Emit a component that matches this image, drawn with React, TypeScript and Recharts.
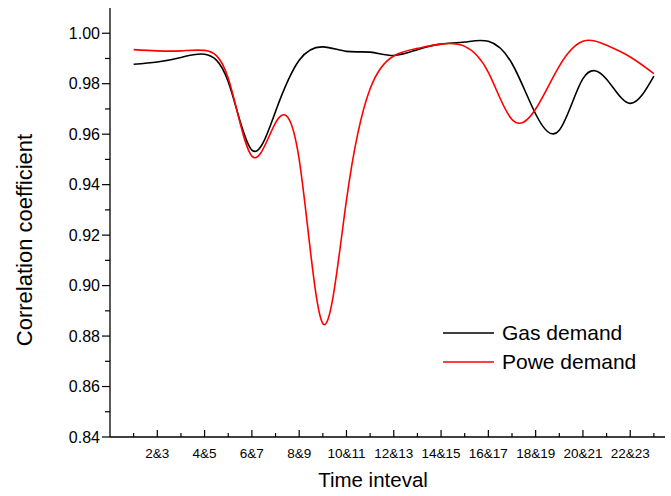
import { Line, LineChart, XAxis, YAxis } from 'recharts'

const timeIndex = [1, 2, 3, 4, 5, 6, 7, 8, 9, 10, 11, 12, 13, 14, 15, 16, 17, 18, 19, 20, 21, 22, 23]
const gasDemand = [
  0.9877, 0.9886, 0.9904, 0.9917, 0.9808, 0.9537, 0.969, 0.9893, 0.9946, 0.9928, 0.9925, 0.9912,
  0.9935, 0.9957, 0.9965, 0.9968, 0.988, 0.968, 0.9616, 0.982, 0.9818, 0.9722, 0.983,
]
const powerDemand = [
  0.9935, 0.993, 0.993, 0.9932, 0.9822, 0.9513, 0.9645, 0.95, 0.885, 0.9339, 0.978, 0.991,
  0.994, 0.9957, 0.9948, 0.9845, 0.9658, 0.97, 0.987, 0.9968, 0.9952, 0.9906, 0.984,
]
const xTickLabels = ['2&3', '4&5', '6&7', '8&9', '10&11', '12&13', '14&15', '16&17', '18&19', '20&21', '22&23']
const yTicks = [0.84, 0.85, 0.86, 0.87, 0.88, 0.89, 0.9, 0.91, 0.92, 0.93, 0.94, 0.95, 0.96, 0.97, 0.98, 0.99, 1.0]

const series = timeIndex.map((x, i) => ({ x, gas: gasDemand[i], power: powerDemand[i] }))

const FONT = 'Arial, "Liberation Sans", sans-serif'

function XTick(props: any) {
  const { x, y, payload } = props
  const v = payload.value as number
  const major = v % 2 === 0
  return (
    <g>
      <line x1={x} x2={x} y1={y} y2={y - (major ? 7 : 4)} stroke="#000" strokeWidth={1.2} />
      {major && (
        <text x={x} y={y + 21} textAnchor="middle" fontSize={13.5} fill="#000" fontFamily={FONT}>
          {xTickLabels[v / 2 - 1]}
        </text>
      )}
    </g>
  )
}

function YTick(props: any) {
  const { x, y, payload } = props
  const v = payload.value as number
  const major = Math.round(v * 100) % 2 === 0
  return (
    <g>
      <line x1={x} x2={x - (major ? 8 : 5)} y1={y} y2={y} stroke="#000" strokeWidth={1.2} />
      {major && (
        <text x={x - 10} y={y} dy="0.36em" textAnchor="end" fontSize={16} fill="#000" fontFamily={FONT}>
          {v.toFixed(2)}
        </text>
      )}
    </g>
  )
}

const xTitle = () => (
  <text x={373} y={487} textAnchor="middle" fontSize={20.5} fill="#000" fontFamily={FONT}>
    Time inteval
  </text>
)

const yTitle = () => (
  <text
    x={24}
    y={240}
    transform="rotate(-90 24 240)"
    textAnchor="middle"
    dy="0.36em"
    fontSize={22}
    fill="#000"
    fontFamily={FONT}
  >
    Correlation coefficient
  </text>
)

const legendItems = [
  { name: 'Gas demand', color: '#000000' },
  { name: 'Powe demand', color: '#ff0000' },
]

export default function App() {
  return (
    <div style={{ position: 'absolute', left: 0, top: 0, width: 671, height: 496, background: '#fff', fontFamily: FONT }}>
      <LineChart width={671} height={496} data={series} margin={{ top: 8, right: 6, left: 0, bottom: 0 }}>
        <XAxis
          dataKey="x"
          type="number"
          domain={[0, 23.47]}
          allowDataOverflow
          ticks={timeIndex}
          interval={0}
          tickSize={0}
          tickMargin={0}
          tickLine={false}
          tick={XTick}
          axisLine={{ stroke: '#000', strokeWidth: 1.3 }}
          height={59}
          label={{ content: xTitle }}
        />
        <XAxis
          xAxisId="top"
          orientation="top"
          dataKey="x"
          type="number"
          domain={[0, 23.47]}
          allowDataOverflow
          height={0}
          tick={false}
          tickLine={false}
          axisLine={{ stroke: '#000', strokeWidth: 2 }}
        />
        <YAxis
          type="number"
          domain={[0.84, 1.01]}
          allowDataOverflow
          ticks={yTicks}
          interval={0}
          tickSize={0}
          tickMargin={0}
          tickLine={false}
          tick={YTick}
          axisLine={{ stroke: '#000', strokeWidth: 1.3 }}
          width={110}
          label={{ content: yTitle }}
        />
        <YAxis
          yAxisId="right"
          orientation="right"
          type="number"
          domain={[0.84, 1.01]}
          allowDataOverflow
          width={0}
          tick={false}
          tickLine={false}
          axisLine={{ stroke: '#000', strokeWidth: 1.3 }}
        />
        <Line type="natural" dataKey="gas" stroke="#000000" strokeWidth={1.6} dot={false} isAnimationActive={false} />
        <Line type="natural" dataKey="power" stroke="#ff0000" strokeWidth={1.6} dot={false} isAnimationActive={false} />
      </LineChart>
      <div style={{ position: 'absolute', left: 443, top: 318 }}>
        {legendItems.map((item) => (
          <div key={item.name} style={{ display: 'flex', alignItems: 'center', height: 29 }}>
            <svg width={51} height={4} style={{ marginRight: 8 }}>
              <line x1={0} x2={51} y1={2} y2={2} stroke={item.color} strokeWidth={1.6} />
            </svg>
            <span style={{ fontSize: 21, color: '#000', lineHeight: '29px' }}>{item.name}</span>
          </div>
        ))}
      </div>
    </div>
  )
}
